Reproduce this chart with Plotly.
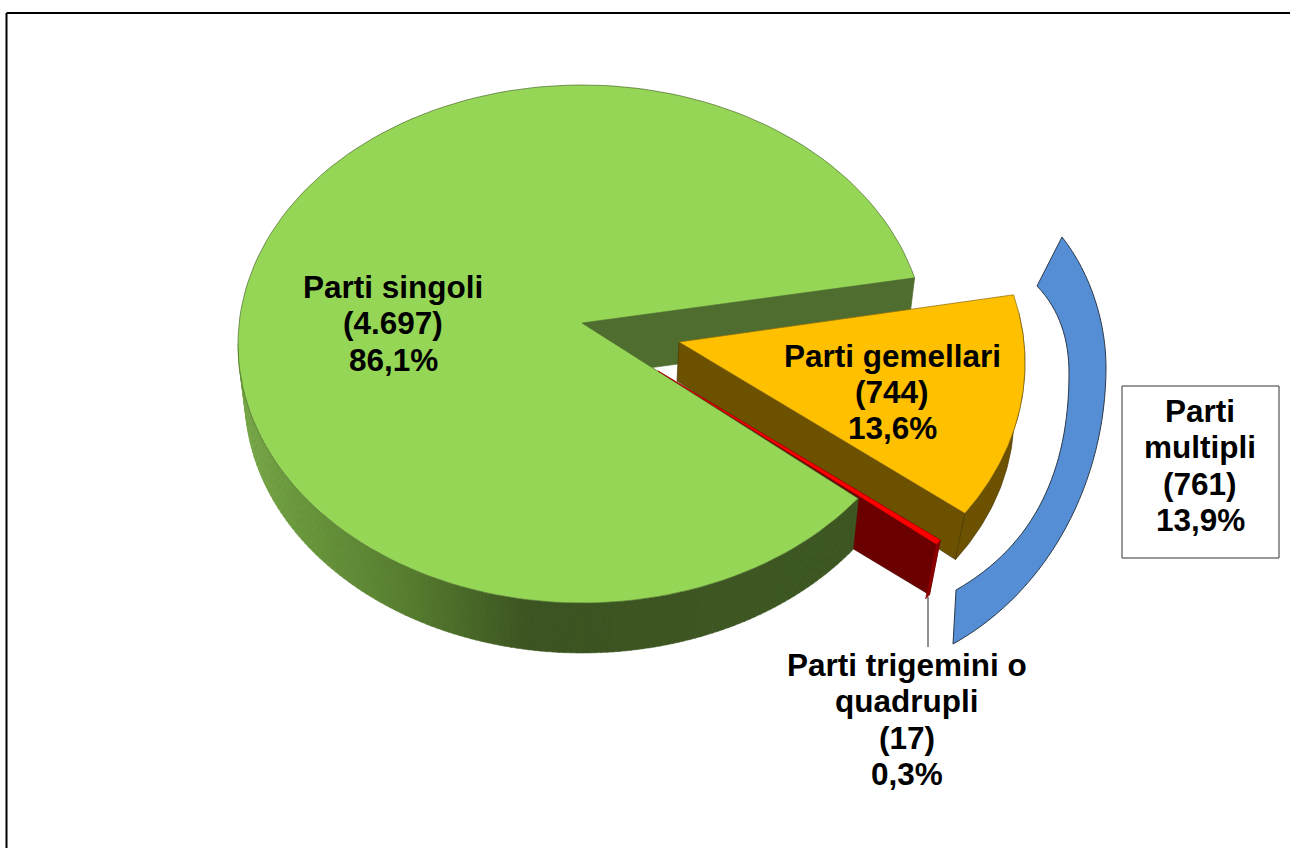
import numpy as np
import plotly.graph_objects as go

# --- data ---
categories = ["Parti gemellari", "Parti trigemini o quadrupli", "Parti singoli"]
counts = [744, 17, 4697]
count_labels = ["(744)", "(17)", "(4.697)"]
pct_labels = ["13,6%", "0,3%", "86,1%"]
group_name = "Parti multipli"
group_count = "(761)"
group_pct = "13,9%"

# --- tilted-pie projection settings ---
W, H = 1290, 848
AB, BB = 337, 255          # bottom ellipse radii (perspective)
START = 14.8               # degrees, where the first slice starts
PERSP = 1.2                # degrees lost to perspective on the green slice
RED_SHIFT = 0.6            # same, for the thin red slice
APEX_UP = 21               # apex sits above the ellipse centre (perspective)
GREEN = dict(c=(582, 344), cb=(582, 398), drop=54, a=344, b=259)
GOLD = dict(c=(679, 363), cb=(677, 416), drop=39, a=346, b=267)
RED = dict(c=(658, 392), cb=(653, 449), drop=57, a=344, b=259)

C_GREEN = "#95D656"
C_GOLD = "#FFC000"
C_GOLD_D = "#6B5100"
C_RED = "#FF0000"
C_RED_D = "#6A0000"
C_WALL = "#4F6D2E"
C_BLUE = "#558ED5"

sweep = np.array(counts) / sum(counts) * 360
t_gold = (START, START - sweep[0])
t_red = (t_gold[1] - RED_SHIFT, t_gold[1] - RED_SHIFT - sweep[1])
t_green = (START, START + sweep[2] - PERSP)


def arc(c, a, b, t1, t2, n=80):
    t = np.radians(np.linspace(t1, t2, n))
    return c[0] + a * np.cos(t), c[1] - b * np.sin(t)


def apex(s):
    return s["c"][0], s["c"][1] - APEX_UP


def apex_b(s):
    x, y = apex(s)
    return s["cb"][0], y + s["drop"]


fig = go.Figure()


def poly(x, y, fill, line=None, width=0.7):
    fig.add_trace(go.Scatter(
        x=list(x), y=list(y), mode="lines", fill="toself", fillcolor=fill,
        line=dict(color=line or fill, width=width), hoverinfo="skip", showlegend=False))


def wall(s, t):
    """flat cut face from the apex to the rim at angle t"""
    x0, y0 = apex(s)
    x1, y1 = arc(s["c"], s["a"], s["b"], t, t, 1)
    x2, y2 = arc(s["cb"], AB, BB, t, t, 1)
    x3, y3 = apex_b(s)
    return [x0, x1[0], x2[0], x3, x0], [y0, y1[0], y2[0], y3, y0]


def rim(s, t1, t2, n=60):
    x1, y1 = arc(s["c"], s["a"], s["b"], t1, t2, n)
    x2, y2 = arc(s["cb"], AB, BB, t2, t1, n)
    return np.r_[x1, x2, x1[0]], np.r_[y1, y2, y1[0]]


def top(s, t1, t2):
    x0, y0 = apex(s)
    x, y = arc(s["c"], s["a"], s["b"], t1, t2, 160)
    return np.r_[x0, x, x0], np.r_[y0, y, y0]


# green back wall
wx, wy = wall(GREEN, t_green[0])
poly(wx, wy, C_WALL)

# gold slice
wx, wy = wall(GOLD, t_gold[1])
poly(wx, wy, C_GOLD_D, "#4A3800")
rx, ry = rim(GOLD, t_gold[1], t_gold[1] + 45)
poly(rx, ry, C_GOLD_D, "#4A3800")
tx, ty = top(GOLD, *t_gold)
poly(tx, ty, C_GOLD, "#8A6A10")

# red slice wall
wx, wy = wall(RED, t_red[0])
poly(wx, wy, C_RED_D, "#4A0000")
rx, ry = rim(RED, t_red[1], t_red[0], 6)
poly(rx, ry, "#8A0000")

# green outer rim, shaded by x position
stops_x = [238, 400, 530, 860]
stops_rgb = np.array([[116, 165, 68], [88, 127, 48], [60, 84, 33], [62, 88, 35]])
edges = np.linspace(180, t_green[1], 141)
for a1, a2 in zip(edges[:-1], edges[1:]):
    rx, ry = rim(GREEN, a1, a2 + 0.1, 3)
    xm = GREEN["c"][0] + GREEN["a"] * np.cos(np.radians((a1 + a2) / 2))
    rgb = [int(np.interp(xm, stops_x, stops_rgb[:, i])) for i in range(3)]
    poly(rx, ry, "rgb(%d,%d,%d)" % tuple(rgb), width=0.5)

# green top
tx, ty = top(GREEN, *t_green)
poly(tx, ty, C_GREEN, "#4C6B2C")

# red top strip
tx, ty = top(RED, *t_red)
poly(tx, ty, C_RED, "#C00000", 0.5)

shapes = [
    dict(type="line", x0=6.5, x1=W, y0=13, y1=13, line=dict(color="#000", width=2)),
    dict(type="line", x0=6.5, x1=6.5, y0=13, y1=H, line=dict(color="#000", width=2)),
    dict(type="line", x0=928, x1=928, y0=597, y1=647, line=dict(color="#222", width=1)),
    dict(type="path",
         path=("M1062,237 C1092,275 1106,325 1106,367 C1106,480 1050,590 953,644 "
               "L956,590 C1035,545 1069,470 1069,373 C1069,340 1060,310 1037,286 Z"),
         fillcolor=C_BLUE, line=dict(color="#2B3A4A", width=1)),
    dict(type="rect", x0=1122, x1=1279, y0=386, y1=558,
         fillcolor="#fff", line=dict(color="#333", width=1)),
]


def label(x, ys, lines):
    for y, text in zip(ys, lines):
        fig.add_annotation(
            x=x, y=y, text="<b>%s</b>" % text, showarrow=False, align="center",
            xanchor="center", yanchor="middle", xref="x", yref="y",
            font=dict(family="Liberation Sans, Arial, sans-serif", size=31.5, color="#000"))


label(393, [287, 323, 360], [categories[2], count_labels[2], pct_labels[2]])
label(892, [356, 392, 428], [categories[0], count_labels[0], pct_labels[0]])
words = categories[1].rsplit(" ", 1)
label(907, [665, 701, 738, 774], [words[0], words[1], count_labels[1], pct_labels[1]])
gw = group_name.split(" ")
label(1200, [411, 447, 484, 520], [gw[0], gw[1], group_count, group_pct])

fig.update_layout(
    width=W, height=H, margin=dict(l=0, r=0, t=0, b=0),
    paper_bgcolor="#fff", plot_bgcolor="#fff", showlegend=False, shapes=shapes,
    xaxis=dict(range=[0, W], visible=False, fixedrange=True),
    yaxis=dict(range=[H, 0], visible=False, fixedrange=True),
)
fig.write_html("out.html", config=dict(displayModeBar=False),
               post_script="document.body.style.margin='0';document.body.style.overflow='hidden';")
